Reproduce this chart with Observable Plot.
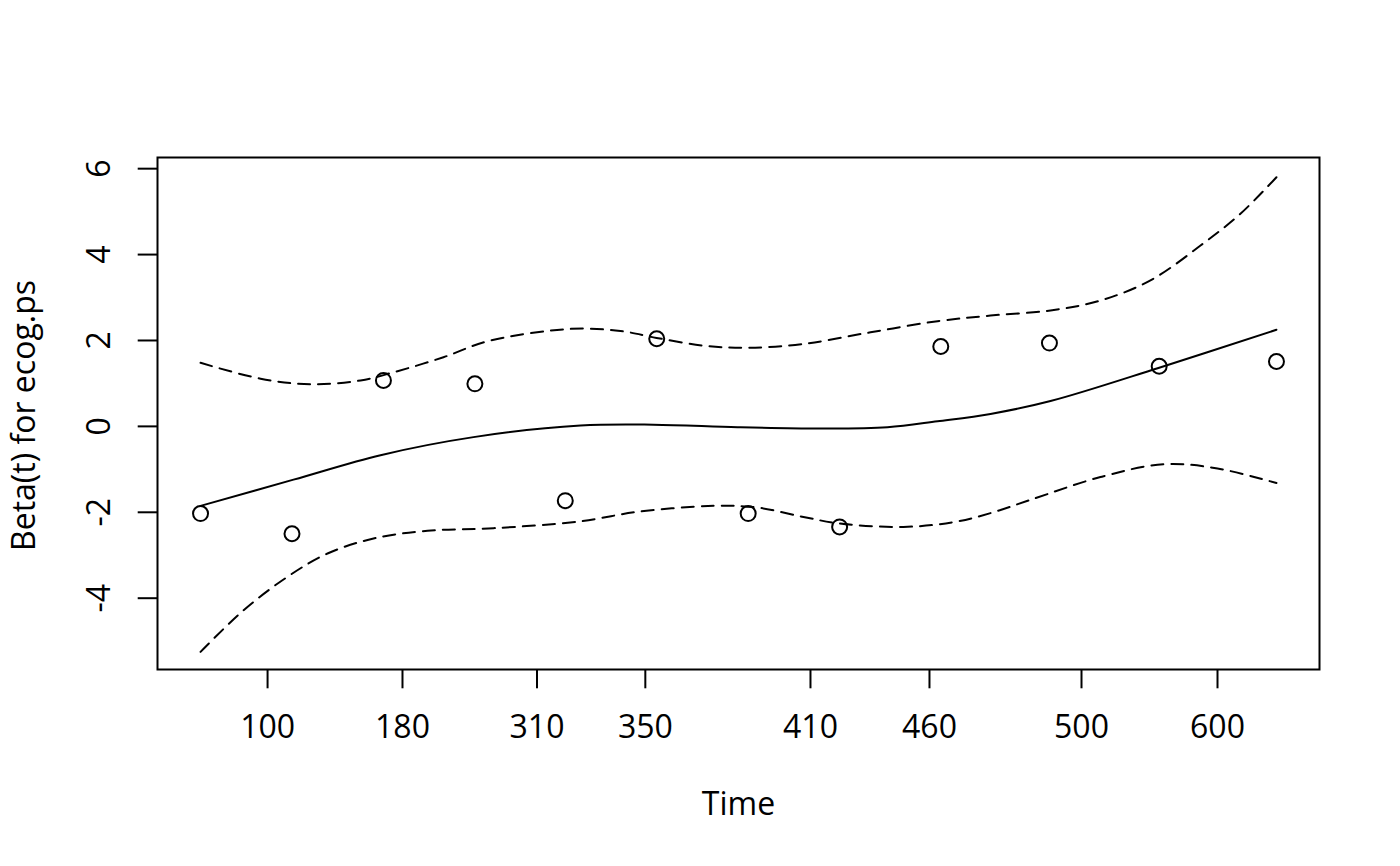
<!DOCTYPE html>
<html>
<head>
<meta charset="utf-8">
<script src="https://cdn.jsdelivr.net/npm/d3@7"></script>
<script src="https://cdn.jsdelivr.net/npm/@observablehq/plot@0.6"></script>
<style>
  html, body { margin: 0; padding: 0; background: #fff; }
  #chart { width: 1400px; height: 866px; }
</style>
</head>
<body>
<div id="chart"></div>
<script>
// Transformed time axis (KM-scale, 0..1) with labels in original time units
const tickU = [0.0623, 0.1877, 0.3127, 0.4134, 0.5669, 0.6775, 0.8188, 0.9452];
const timeLabels = ["100", "180", "310", "350", "410", "460", "500", "600"];
const yTicks = [-4, -2, 0, 2, 4, 6];

// Scaled Schoenfeld residuals (points)
const residU = [0, 0.085, 0.170, 0.255, 0.339, 0.424, 0.509, 0.594, 0.688, 0.789, 0.891, 1];
const residBeta = [-2.03, -2.50, 1.07, 0.99, -1.73, 2.04, -2.03, -2.34, 1.86, 1.94, 1.40, 1.51];

// Smoothed fit
const fitU = [0, 0.0864, 0.1673, 0.2537, 0.3532, 0.4210, 0.4991, 0.5762, 0.6385, 0.6850, 0.7342, 0.7900, 0.8903, 1];
const fitBeta = [-1.85, -1.24, -0.67, -0.25, 0.02, 0.04, -0.02, -0.05, -0.02, 0.12, 0.29, 0.59, 1.36, 2.25];

// Upper confidence band
const upperU = [0, 0.0558, 0.1022, 0.1487, 0.1794, 0.2258, 0.2667, 0.3439, 0.3903, 0.4238, 0.4675, 0.5084, 0.5604, 0.6227, 0.6850, 0.7342, 0.7900, 0.8364, 0.8829, 0.9294, 0.9665, 1];
const upperBeta = [1.48, 1.11, 0.98, 1.07, 1.26, 1.61, 1.98, 2.27, 2.22, 2.06, 1.88, 1.83, 1.92, 2.19, 2.45, 2.58, 2.70, 2.93, 3.40, 4.21, 4.95, 5.80];

// Lower confidence band
const lowerU = [0, 0.0400, 0.0809, 0.1180, 0.1608, 0.2110, 0.2723, 0.3532, 0.4061, 0.4768, 0.5177, 0.5604, 0.5939, 0.6533, 0.6998, 0.7342, 0.7714, 0.8364, 0.8950, 0.9452, 1];
const lowerBeta = [-5.25, -4.28, -3.50, -2.96, -2.61, -2.43, -2.37, -2.21, -1.99, -1.85, -1.89, -2.11, -2.26, -2.34, -2.23, -2.02, -1.71, -1.18, -0.88, -0.98, -1.32];

const zip = (xs, ys) => xs.map((x, i) => ({x, y: ys[i]}));
const resid = zip(residU, residBeta);
const fit = zip(fitU, fitBeta);
const upper = zip(upperU, upperBeta);
const lower = zip(lowerU, lowerBeta);
const xTickData = tickU.map((u, i) => ({u, label: timeLabels[i]}));

const FONT = 32;

const chart = Plot.plot({
  width: 1400,
  height: 866,
  marginLeft: 157,
  marginRight: 81,
  marginTop: 157,
  marginBottom: 197,
  style: {fontFamily: "'Open Sans', 'Noto Sans', sans-serif", fontSize: "32px", background: "#fff", color: "#000", overflow: "visible"},
  x: {domain: [-0.04, 1.04], axis: null},
  y: {domain: [-5.66, 6.26], axis: null},
  marks: [
    Plot.axisX({ticks: tickU, tickSize: 19.3, fill: "none", strokeWidth: 2}),
    Plot.axisY({ticks: yTicks, tickSize: 19.3, fill: "none", strokeWidth: 2}),
    Plot.text(xTickData, {x: "u", text: "label", frameAnchor: "bottom", dy: 58, fontSize: FONT, fill: "#000", textAnchor: "middle", lineAnchor: "middle"}),
    Plot.text(yTicks, {y: d => d, text: d => String(d), frameAnchor: "left", dx: -58, rotate: -90, fontSize: FONT, fill: "#000", textAnchor: "middle", lineAnchor: "middle"}),
    Plot.text(["Time"], {frameAnchor: "bottom", dy: 135, fontSize: FONT, fill: "#000", textAnchor: "middle", lineAnchor: "middle"}),
    Plot.text(["Beta(t) for ecog.ps"], {frameAnchor: "left", dx: -133, dy: 2, rotate: -90, fontSize: FONT, fill: "#000", textAnchor: "middle", lineAnchor: "middle"}),
    Plot.line(fit, {x: "x", y: "y", curve: "catmull-rom", stroke: "#000", strokeWidth: 2}),
    Plot.line(upper, {x: "x", y: "y", curve: "catmull-rom", stroke: "#000", strokeWidth: 2, strokeDasharray: "12,8"}),
    Plot.line(lower, {x: "x", y: "y", curve: "catmull-rom", stroke: "#000", strokeWidth: 2, strokeDasharray: "12,8"}),
    Plot.dot(resid, {x: "x", y: "y", r: 7.5, stroke: "#000", strokeWidth: 2, fill: "none"}),
    Plot.frame({stroke: "#000", strokeWidth: 2})
  ]
});
document.getElementById("chart").appendChild(chart);
</script>
</body>
</html>
